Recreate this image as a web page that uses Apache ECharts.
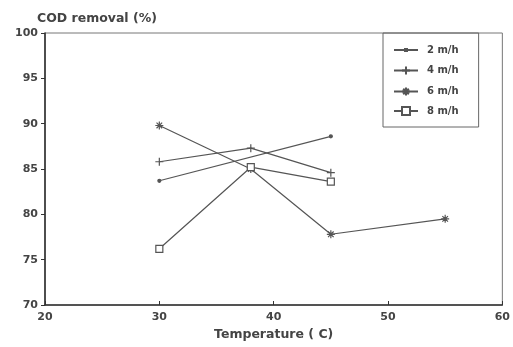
<!DOCTYPE html>
<html><head><meta charset="utf-8">
<script src="https://cdn.jsdelivr.net/npm/echarts@6/dist/echarts.min.js"></script>
<style>html,body{margin:0;padding:0;background:#fff}#c{width:513px;height:347px}</style>
</head><body><div id="c"></div>
<script>
var temps = [30, 38, 45, 55];
var s2 = [[30, 83.7], [45, 88.6]];
var s4 = [[30, 85.8], [38, 87.3], [45, 84.6]];
var s6 = [[30, 89.8], [38, 85.0], [45, 77.8], [55, 79.5]];
var s8 = [[30, 76.2], [38, 85.2], [45, 83.6]];
var names = ['2 m/h', '4 m/h', '6 m/h', '8 m/h'];
var xTicks = [20, 30, 40, 50, 60];
var yTicks = [70, 75, 80, 85, 90, 95, 100];

var plus = 'path://M0,5L10,5M5,0L5,10';
var star = 'path://M0,5L10,5M5,0L5,10M1.5,1.5L8.5,8.5M8.5,1.5L1.5,8.5';
var font = 'DejaVu Sans';
var col = '#555';
function ser(name, data, symbol, size, lineType, fill) {
  return {
    name: name, type: 'line', data: data, symbol: symbol, symbolSize: size,
    lineStyle: {color: col, width: 1.2, type: lineType},
    itemStyle: {color: fill, borderColor: col, borderWidth: 1.2},
    animation: false
  };
}
var chart = echarts.init(document.getElementById('c'));
chart.setOption({
  animation: false,
  grid: {left: 45, right: 10, top: 33, bottom: 42, show: true, borderColor: '#777', borderWidth: 1},
  legend: {
    orient: 'vertical', left: 383, top: 33,
    data: [
      {name: names[0], icon: 'path://M0,0M48,20M0,10L48,10M22,8L26,8L26,12L22,12Z'},
      {name: names[1]}, {name: names[2]}, {name: names[3]}
    ],
    padding: [11, 20, 11, 10], itemGap: 8, itemWidth: 24, itemHeight: 10,
    borderColor: '#666', borderWidth: 1,
    textStyle: {fontFamily: font, fontSize: 10, fontWeight: 'bold', color: '#444', padding: [0, 0, 0, 4]}
  },
  xAxis: {
    type: 'value', min: 20, max: 60, interval: 10,
    name: 'Temperature ( C)', nameLocation: 'middle', nameGap: 22,
    nameTextStyle: {fontFamily: font, fontSize: 12.5, fontWeight: 'bold', color: '#444'},
    axisLine: {lineStyle: {color: '#333', width: 1.6}},
    axisTick: {inside: true, length: 4, lineStyle: {color: '#333'}},
    axisLabel: {fontFamily: font, fontSize: 11, fontWeight: 'bold', color: '#444', margin: 7,
      formatter: function (v) { return xTicks.indexOf(v) >= 0 ? String(v) : ''; }},
    splitLine: {show: false}
  },
  yAxis: {
    type: 'value', min: 70, max: 100, interval: 5,
    name: 'COD removal (%)', nameLocation: 'end', nameGap: 8,
    nameTextStyle: {fontFamily: font, fontSize: 12.5, fontWeight: 'bold', color: '#444', align: 'left', padding: [0, 0, 0, -8]},
    axisLine: {show: true, lineStyle: {color: '#333', width: 1.6}},
    axisTick: {show: true, length: 4, lineStyle: {color: '#333'}},
    axisLabel: {fontFamily: font, fontSize: 11, fontWeight: 'bold', color: '#444', margin: 7,
      formatter: function (v) { return yTicks.indexOf(v) >= 0 ? String(v) : ''; }},
    splitLine: {show: false}
  },
  series: [
    ser(names[0], s2, 'circle', 3, 'solid', col),
    ser(names[1], s4, plus, 8, 'solid', 'none'),
    ser(names[2], s6, star, 8, 'solid', 'none'),
    ser(names[3], s8, 'rect', 7, 'solid', '#fff')
  ]
});
</script></body></html>
